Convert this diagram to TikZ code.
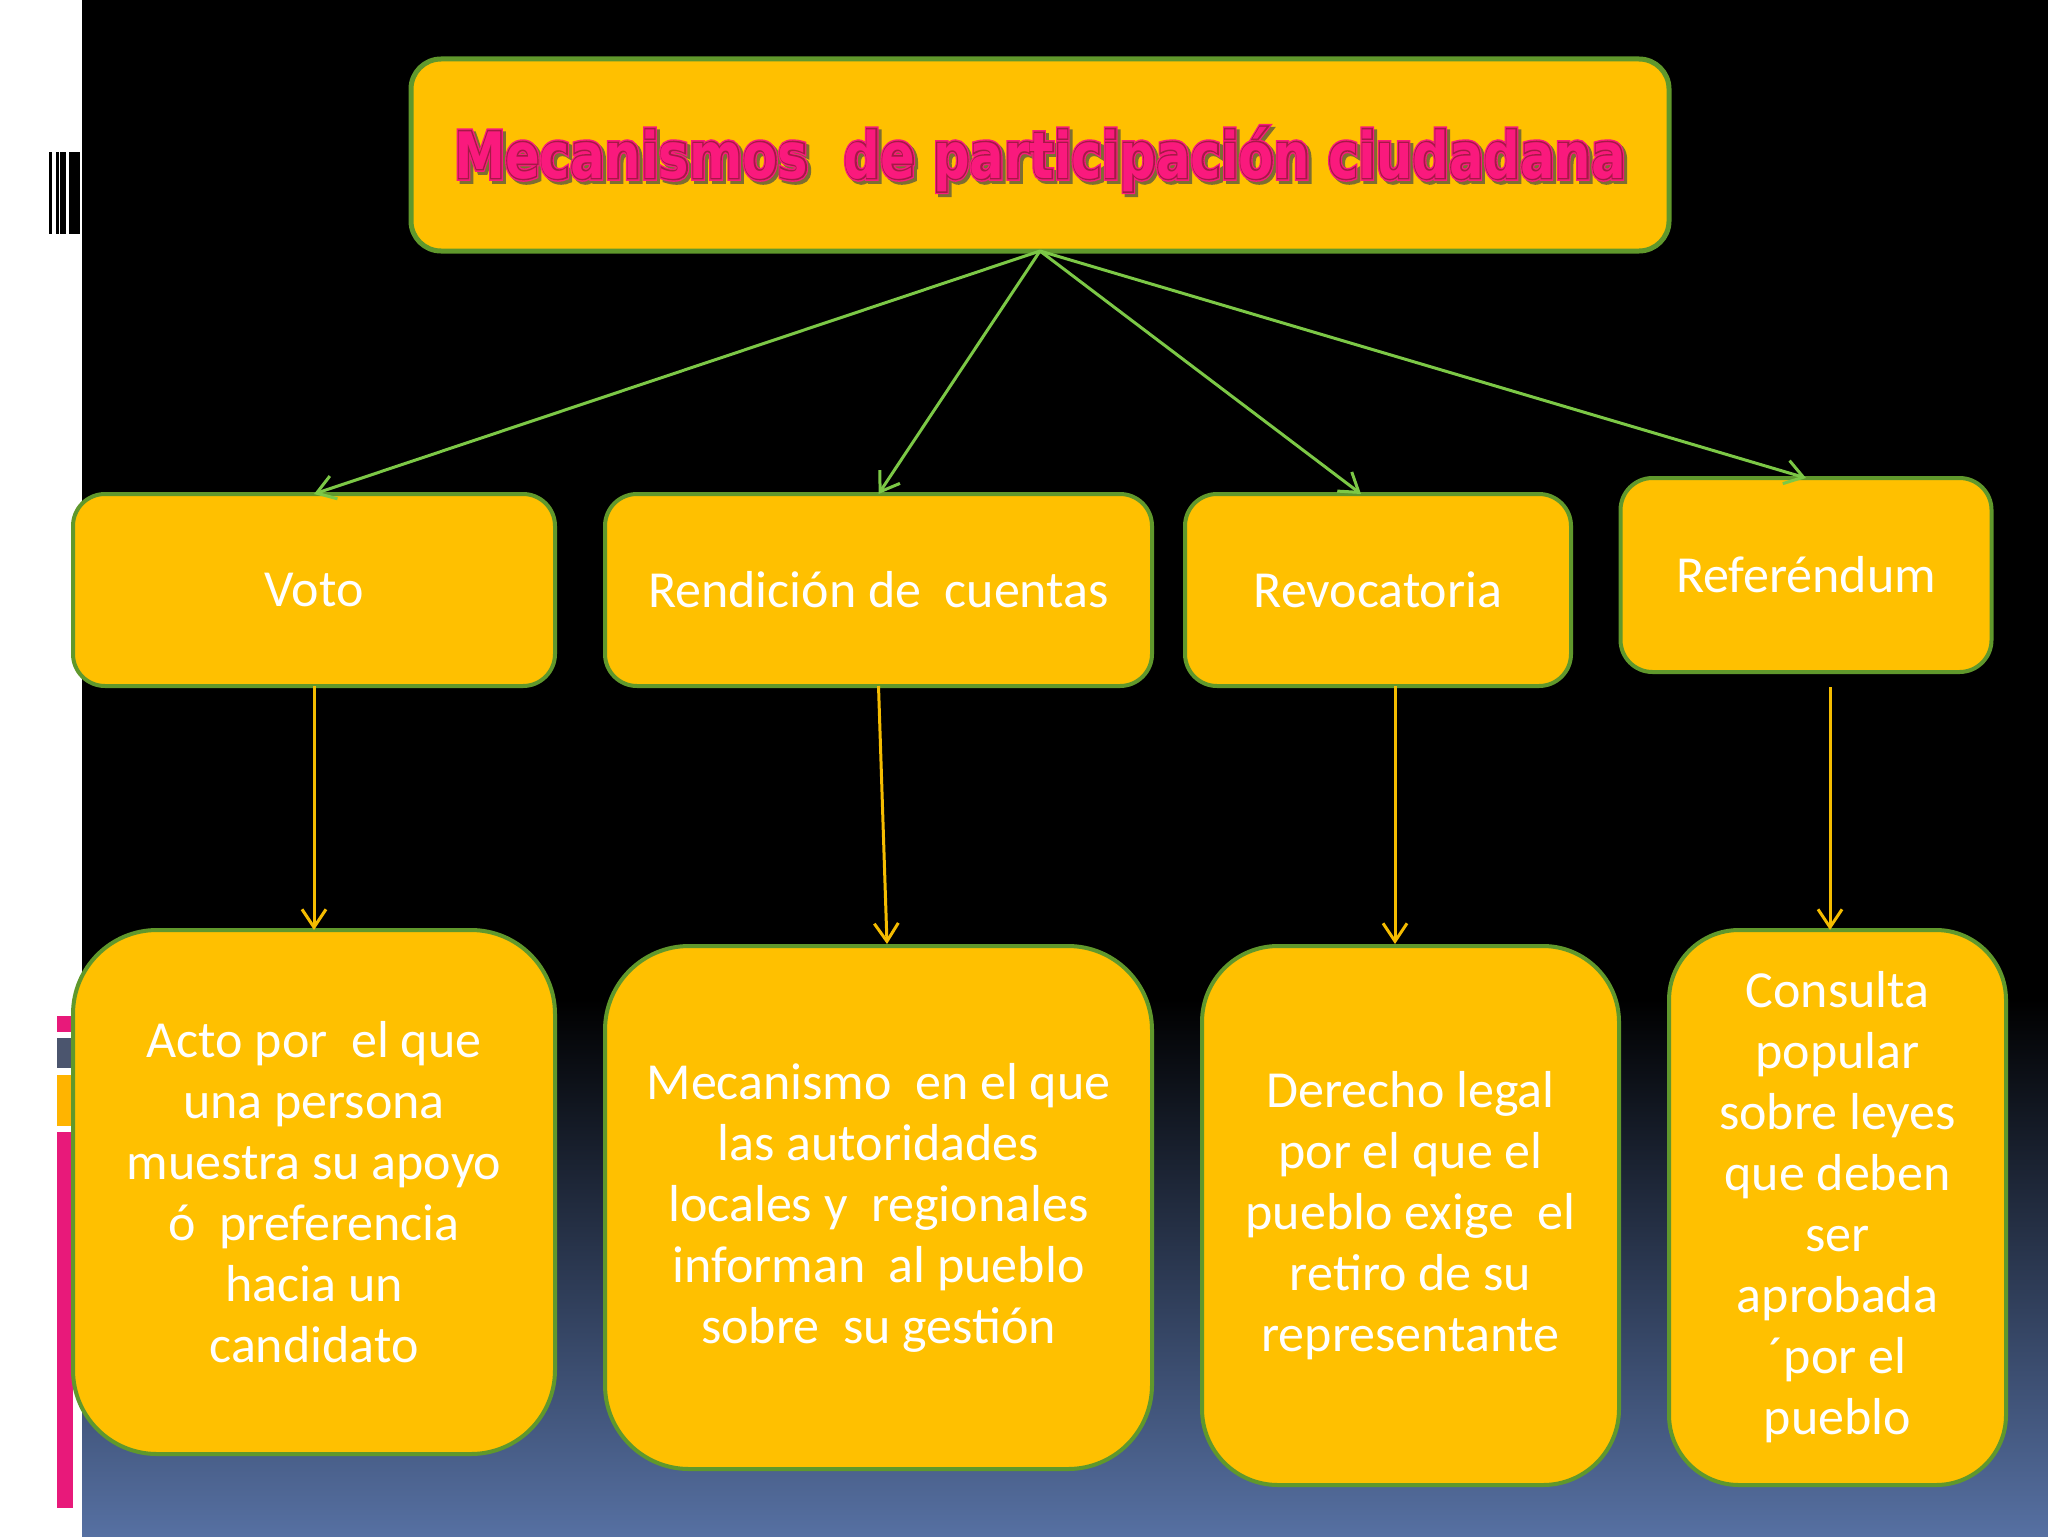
\documentclass[tikz,border=0pt]{standalone}
\usepackage{fontspec}
\usepackage{graphicx}
\usetikzlibrary{arrows.meta,calc}
\setmainfont{Carlito}
\newfontfamily\boxfont{Carlito}
\newfontfamily\ttlfontN{DejaVu Sans Bold}
\newfontfamily\ttlfontA[FakeBold=9]{DejaVu Sans Bold}
\newfontfamily\ttlfontB[FakeBold=4.5]{DejaVu Sans Bold}
\newcommand{\mybtext}{\boxfont\fontsize{26}{30.5}\selectfont}
\newcommand{\ttlstr}[1]{\scalebox{0.8}[1]{#1\fontsize{32}{36}\selectfont Mecanismos\ \ de participación ciudadana}}
\definecolor{boxfill}{RGB}{255,192,0}
\definecolor{boxedge}{RGB}{96,152,44}
\definecolor{lgreen}{RGB}{124,200,70}
\definecolor{lyellow}{RGB}{245,188,0}
\definecolor{tpink}{RGB}{250,25,125}
\definecolor{tdark}{RGB}{165,25,70}
\definecolor{tshadow}{RGB}{125,110,50}
\definecolor{bgblue}{RGB}{86,112,162}
\definecolor{barpink}{RGB}{232,25,122}
\definecolor{bargray}{RGB}{75,85,110}
\definecolor{barorange}{RGB}{255,180,0}
\tikzset{
  box/.style={draw=boxedge, line width=2pt, fill=boxfill, text=white, font=\mybtext, align=center, inner sep=0pt, outer sep=0pt},
  garrow/.style={draw=lgreen, line width=1.5pt, -{Straight Barb[length=9pt,width=12pt]}},
  yarrow/.style={draw=lyellow, line width=1.5pt, -{Straight Barb[length=9pt,width=12pt]}},
  ttllayer/.style={anchor=base, inner sep=0pt}
}
\begin{document}
\begin{tikzpicture}[x=0.5pt,y=-0.5pt]
\useasboundingbox (0,0) rectangle (2048,1536);
% background
\fill[white] (0,0) rectangle (2048,1536);
\fill[black] (82,0) rectangle (2048,1000);
\shade[top color=black, bottom color=bgblue] (82,999) rectangle (2048,1536);
% barcode
\fill[black] (49,152) rectangle (52,234);
\fill[black] (56,152) rectangle (58.5,234);
\fill[black] (60,152) rectangle (66,234);
\fill[black] (69,152) rectangle (80,234);
% left bars
\fill[barpink] (57,1016) rectangle (73,1032);
\fill[bargray] (57,1038) rectangle (73,1068);
\fill[barorange] (57,1075) rectangle (73,1126);
\fill[barpink] (57,1132) rectangle (73,1508);
% title
\node[box, minimum width=629pt, minimum height=96pt, rounded corners=15pt, line width=2.5pt] (title) at (1040,155) {};
\node[ttllayer, text=tshadow] (tshadow) at (1043,181) {\ttlstr{\ttlfontA}};
\node[ttllayer, text=tpink] (touter) at (1040,178) {\ttlstr{\ttlfontA}};
\node[ttllayer, text=tdark] (tdarkn) at (1040,178) {\ttlstr{\ttlfontB}};
\node[ttllayer, text=tpink] (ttext) at (1040,178) {\ttlstr{\ttlfontN}};
% second row
\node[box, minimum width=241pt, minimum height=96pt, rounded corners=16pt] (voto) at (314,590) {Voto};
\node[box, minimum width=273.5pt, minimum height=96pt, rounded corners=16pt] (rend) at (878.5,590) {Rendición de\ \ cuentas};
\node[box, minimum width=193pt, minimum height=96pt, rounded corners=16pt] (revo) at (1378,590) {Revocatoria};
\node[box, minimum width=185.5pt, minimum height=97pt, rounded corners=16pt] (ref) at (1806,575) {Referéndum};
% third row
\node[box, minimum width=241pt, minimum height=262pt, rounded corners=42pt] (acto) at (314,1192) {Acto por\ \ el que\\una persona\\muestra su apoyo\\ó\ \ preferencia\\hacia un\\candidato};
\node[box, minimum width=273.5pt, minimum height=261.5pt, rounded corners=42pt] (mec) at (878.5,1207.5) {Mecanismo\ \ en el que\\las autoridades\\locales y\ \ regionales\\informan\ \ al pueblo\\sobre\ \ su gestión};
\node[box, minimum width=208.5pt, minimum height=269.5pt, rounded corners=38pt] (der) at (1410.5,1215.5) {Derecho legal\\por el que el\\pueblo exige\ \ el\\retiro de su\\representante};
\node[box, minimum width=168.5pt, minimum height=277.5pt, rounded corners=35pt] (cons) at (1837.5,1207.5) {Consulta\\popular\\sobre leyes\\que deben\\ser\\aprobada\\´por el\\pueblo};
% connectors
\coordinate (revoin) at (1361,494);
\draw[garrow] (title.south) -- (voto.north);
\draw[garrow] (title.south) -- (rend.north);
\draw[garrow] (title.south) -- (revoin);
\draw[garrow] (title.south) -- (ref.north);
\coordinate (mecin) at (887,944);
\coordinate (revoout) at (1395,686);
\coordinate (derin) at (1395,944);
\coordinate (refout) at (1830,687);
\coordinate (consin) at (1830,930);
\draw[yarrow] (voto.south) -- (acto.north);
\draw[yarrow] (rend.south) -- (mecin);
\draw[yarrow] (revoout) -- (derin);
\draw[yarrow] (refout) -- (consin);
\end{tikzpicture}
\end{document}
